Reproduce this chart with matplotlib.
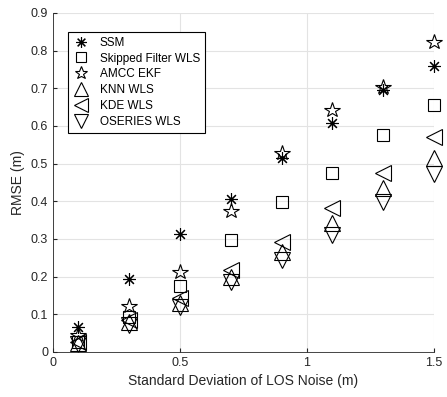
import numpy as np
import matplotlib
matplotlib.use('Agg')
from matplotlib import pyplot as plt

plt.rcParams['font.family'] = ['Liberation Sans', 'DejaVu Sans']

# noise levels (std of LOS noise)
sigma = [0.1, 0.3, 0.5, 0.7, 0.9, 1.1, 1.3, 1.5]

ssm      = [0.066, 0.193, 0.313, 0.406, 0.514, 0.607, 0.696, 0.760]
skipped  = [0.027, 0.094, 0.176, 0.297, 0.397, 0.476, 0.576, 0.656]
amcc_ekf = [0.045, 0.122, 0.212, 0.374, 0.527, 0.642, 0.704, 0.822]
knn      = [0.025, 0.080, 0.129, 0.200, 0.266, 0.342, 0.435, 0.514]
kde      = [0.026, 0.085, 0.142, 0.218, 0.293, 0.381, 0.474, 0.572]
oseries  = [0.020, 0.072, 0.120, 0.187, 0.244, 0.310, 0.399, 0.473]

labels = ['SSM', 'Skipped Filter WLS', 'AMCC EKF', 'KNN WLS', 'KDE WLS', 'OSERIES WLS']

fig = plt.figure(figsize=(4.47, 3.97), dpi=100)
ax = fig.add_axes([0.1186, 0.1134, 0.8523, 0.8539])

series = [ssm, skipped, amcc_ekf, knn, kde, oseries]
markers = [(8, 2, 0), 's', '*', '^', '<', 'v']
sizes = [9, 9, 11.5, 11.5, 11.5, 11.5]
for vals, m, ms, lab in zip(series, markers, sizes, labels):
    ax.plot(sigma, vals, linestyle='none', marker=m, markersize=ms,
            markerfacecolor='none', markeredgecolor='black',
            markeredgewidth=0.8, color='black', label=lab, clip_on=False)

ax.set_xlim(0, 1.5)
ax.set_ylim(0, 0.9)
ax.set_xticks([0, 0.5, 1, 1.5])
ax.set_xticklabels(['0', '0.5', '1', '1.5'])
ax.set_yticks(np.arange(0, 0.91, 0.1))
ax.set_yticklabels(['0'] + ['%.1f' % v for v in np.arange(0.1, 0.91, 0.1)])
ax.tick_params(direction='in', labelsize=9, length=3, colors='#262626')
ax.grid(True, color='#e3e3e3', linewidth=0.8)
ax.set_axisbelow(True)
for s in ['top', 'right']:
    ax.spines[s].set_visible(False)
for s in ['left', 'bottom']:
    ax.spines[s].set_color('#262626')
    ax.spines[s].set_linewidth(0.6)

ax.set_xlabel('Standard Deviation of LOS Noise (m)', fontsize=10, color='#262626')
ax.set_ylabel('RMSE (m)', fontsize=10, color='#262626')

leg = ax.legend(loc='upper left', bbox_to_anchor=(0.039, 0.944), fontsize=8.5,
                fancybox=False, framealpha=1, edgecolor='black',
                borderaxespad=0, handletextpad=0.8, borderpad=0.4,
                labelspacing=0.33, handlelength=1.5, markerscale=0.85)
leg.get_frame().set_linewidth(0.8)

plt.savefig('out.png', dpi=100)
